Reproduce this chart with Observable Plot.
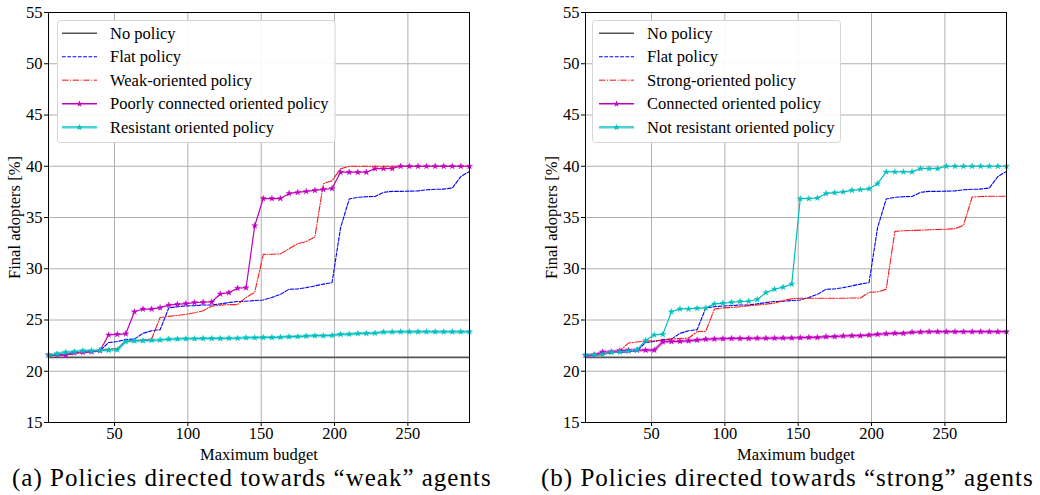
<!DOCTYPE html>
<html>
<head>
<meta charset="utf-8">
<script src="https://cdn.jsdelivr.net/npm/d3@7"></script>
<script src="https://cdn.jsdelivr.net/npm/@observablehq/plot@0.6"></script>
<style>
  html, body { margin: 0; padding: 0; background: white; }
  #wrap { position: relative; width: 1040px; height: 495px; overflow: hidden; background: white; }
  .panel { position: absolute; top: 0; width: 520px; height: 460px; }
  .panel svg { max-width: none !important; }
  .caption { position: absolute; top: 463px; font-family: "Liberation Serif", "Times New Roman", serif; font-size: 25px; letter-spacing: 1px; color: #000; white-space: nowrap; line-height: 30px; }
</style>
</head>
<body>
<div id="wrap"></div>
<script>
// ---------------- data ----------------
const budget = [5.0, 10.9, 16.7, 22.6, 28.4, 34.3, 40.1, 46.0, 51.9, 57.7,
  63.6, 69.4, 75.3, 81.1, 87.0, 92.9, 98.7, 104.6, 110.4, 116.3,
  122.1, 128.0, 133.9, 139.7, 145.6, 151.4, 157.3, 163.1, 169.0, 174.9,
  180.7, 186.6, 192.4, 198.3, 204.1, 210.0, 215.9, 221.7, 227.6, 233.4,
  239.3, 245.1, 251.0, 256.9, 262.7, 268.6, 274.4, 280.3, 286.1, 292.0];

const noPolicy = 21.35;

const flat = [21.5, 21.6, 21.7, 21.8, 21.85, 21.9, 22.0, 22.8, 22.9, 23.1,
  23.14, 23.7, 23.95, 24.05, 26.18, 26.3, 26.37, 26.4, 26.47, 26.47,
  26.57, 26.7, 26.8, 26.83, 26.9, 26.95, 27.2, 27.5, 28.0, 28.03,
  28.16, 28.33, 28.5, 28.65, 34.0, 36.8, 36.97, 37.03, 37.05, 37.46,
  37.55, 37.55, 37.57, 37.6, 37.7, 37.75, 37.77, 37.88, 39.0, 39.5];

// panel (a)
const weakOriented = [21.5, 21.55, 21.6, 21.7, 21.8, 21.85, 22.0, 22.2, 22.2, 22.95,
  23.0, 23.05, 23.15, 25.25, 25.35, 25.45, 25.55, 25.7, 25.9, 26.35,
  26.45, 26.5, 26.5, 27.2, 27.7, 31.4, 31.42, 31.45, 31.95, 32.45,
  32.65, 33.1, 38.3, 38.6, 39.75, 40, 40, 40, 40, 40,
  40, 40, 40, 40, 40, 40, 40, 40, 40, 40];

const poorlyConnected = [21.6, 21.6, 21.55, 21.8, 21.85, 21.9, 22.0, 23.55, 23.6, 23.65,
  25.8, 26.07, 26.07, 26.2, 26.45, 26.53, 26.6, 26.7, 26.73, 26.76,
  27.54, 27.67, 28.1, 28.15, 34.2, 36.85, 36.85, 36.85, 37.35, 37.45,
  37.55, 37.65, 37.75, 37.83, 39.42, 39.42, 39.42, 39.42, 39.77, 39.77,
  39.78, 40, 40, 40, 40, 40, 40, 40, 40, 40];

const resistant = [21.55, 21.7, 21.85, 21.9, 22.0, 22.0, 22.05, 22.05, 22.1, 22.9,
  22.95, 22.98, 23.02, 23.05, 23.12, 23.15, 23.17, 23.18, 23.2, 23.2,
  23.2, 23.22, 23.22, 23.27, 23.28, 23.3, 23.3, 23.32, 23.37, 23.38,
  23.43, 23.47, 23.47, 23.5, 23.6, 23.62, 23.68, 23.7, 23.72, 23.82,
  23.84, 23.85, 23.85, 23.85, 23.85, 23.85, 23.85, 23.85, 23.85, 23.85];

// panel (b)
const strongOriented = [21.5, 21.55, 21.6, 21.85, 22.0, 22.75, 22.85, 22.95, 22.97, 23.02,
  23.14, 23.2, 23.24, 23.85, 23.9, 26.08, 26.18, 26.22, 26.3, 26.4,
  26.47, 26.55, 26.65, 26.9, 27.08, 27.12, 27.12, 27.12, 27.12, 27.12,
  27.12, 27.15, 27.15, 27.7, 27.75, 28.0, 33.65, 33.7, 33.74, 33.77,
  33.8, 33.83, 33.86, 33.9, 34.25, 37.0, 37.05, 37.07, 37.07, 37.07];

const connected = [21.55, 21.6, 21.88, 21.9, 22.0, 22.05, 22.06, 22.06, 22.06, 22.87,
  22.9, 22.92, 22.97, 23.04, 23.12, 23.15, 23.17, 23.2, 23.2, 23.2,
  23.22, 23.22, 23.23, 23.24, 23.25, 23.27, 23.3, 23.3, 23.37, 23.38,
  23.44, 23.47, 23.47, 23.53, 23.6, 23.66, 23.7, 23.7, 23.8, 23.83,
  23.86, 23.86, 23.86, 23.86, 23.86, 23.86, 23.86, 23.86, 23.86, 23.86];

const notResistant = [21.6, 21.6, 21.62, 21.85, 21.88, 21.95, 22.08, 23.0, 23.55, 23.6,
  25.8, 26.08, 26.08, 26.14, 26.18, 26.57, 26.63, 26.73, 26.8, 26.83,
  27.0, 27.67, 28.0, 28.2, 28.5, 36.84, 36.84, 36.9, 37.35, 37.42,
  37.5, 37.65, 37.72, 37.8, 38.3, 39.45, 39.45, 39.45, 39.45, 39.77,
  39.77, 39.77, 40, 40, 40, 40, 40, 40, 40, 40];

const xTicks = [50, 100, 150, 200, 250];
const yTicks = [15, 20, 25, 30, 35, 40, 45, 50, 55];
const xLabel = "Maximum budget";
const yLabel = "Final adopters [%]";

const legendA = ["No policy", "Flat policy", "Weak-oriented policy", "Poorly connected oriented policy", "Resistant oriented policy"];
const legendB = ["No policy", "Flat policy", "Strong-oriented policy", "Connected oriented policy", "Not resistant oriented policy"];
const captionA = "(a) Policies directed towards \u201cweak\u201d agents";
const captionB = "(b) Policies directed towards \u201cstrong\u201d agents";

// ---------------- styles ----------------
const C_BLACK = "#555555", C_BLUE = "#0000ff", C_RED = "#ff0000", C_MAG = "#bf00bf", C_CYAN = "#00bfbf";
const DASH = "3.7,1.6", DASHDOT = "6.4,1.6,1,1.6";
const FONT = "'Liberation Serif', 'Times New Roman', serif";

function rows(vals) { return budget.map((b, i) => ({b, v: vals[i]})); }

function panel({weak, mag, cyan, lowColor, legend, marginRight, legendWidth}) {
  const W = 520, H = 462;
  const magRows = rows(mag), cyanRows = rows(cyan), flatRows = rows(flat), weakRows = rows(weak);
  const magLow = lowColor === "mag";
  const svg = Plot.plot({
    width: W, height: H,
    marginTop: 12, marginBottom: 40, marginLeft: 48, marginRight,
    style: {fontFamily: FONT, fontSize: "16.5px", color: "black", background: "white", overflow: "visible"},
    x: {domain: [5, 292]},
    y: {domain: [15, 55]},
    marks: [
      Plot.gridX(xTicks, {stroke: "#b0b0b0", strokeOpacity: 1, strokeWidth: 1}),
      Plot.gridY(yTicks, {stroke: "#b0b0b0", strokeOpacity: 1, strokeWidth: 1}),
      Plot.axisX(xTicks, {tickSize: 4, tickPadding: 1, label: xLabel, labelAnchor: "center", labelArrow: "none", labelOffset: 37, fontSize: 16.5}),
      Plot.axisY(yTicks, {tickSize: 4, tickPadding: 2, label: yLabel, labelAnchor: "center", labelArrow: "none", labelOffset: 40, fontSize: 16.5}),
      Plot.ruleY([noPolicy], {stroke: C_BLACK, strokeWidth: 1.6}),
      Plot.line(flatRows, {x: "b", y: "v", stroke: C_BLUE, strokeWidth: 1.1, strokeDasharray: DASH}),
      Plot.line(weakRows, {x: "b", y: "v", stroke: C_RED, strokeWidth: 1.1, strokeOpacity: 0.9, strokeDasharray: DASHDOT}),
      magLow ? Plot.line(magRows, {x: "b", y: "v", stroke: C_MAG, strokeWidth: 3.5, strokeOpacity: 0.35}) : null,
      Plot.line(magRows, {x: "b", y: "v", stroke: C_MAG, strokeWidth: 1.2}),
      Plot.dot(magRows, {x: "b", y: "v", symbol: "star", r: 1.9, fill: C_MAG, stroke: C_MAG, strokeWidth: 0.4}),
      !magLow ? Plot.line(cyanRows, {x: "b", y: "v", stroke: C_CYAN, strokeWidth: 3.5, strokeOpacity: 0.35}) : null,
      Plot.line(cyanRows, {x: "b", y: "v", stroke: C_CYAN, strokeWidth: 1.2}),
      Plot.dot(cyanRows, {x: "b", y: "v", symbol: "star", r: 1.9, fill: C_CYAN, stroke: C_CYAN, strokeWidth: 0.4}),
      Plot.frame({stroke: "black", strokeWidth: 1})
    ].filter(Boolean)
  });

  // legend
  const s = d3.select(svg);
  const g = s.append("g").attr("font-family", FONT).attr("font-size", 16.5).attr("text-anchor", "start");
  const bx = legendWidth > 260 ? 57.5 : 55.5, by = 20.5, bh = 122;
  const styles = [
    {stroke: C_BLACK, w: 1.6},
    {stroke: C_BLUE, w: 1.1, dash: DASH},
    {stroke: "#ff5a5a", w: 1.6, dash: DASHDOT},
    {stroke: C_MAG, w: 1.4, marker: true},
    {stroke: C_CYAN, w: 2.6, marker: true, op: 0.7}
  ];
  g.append("rect").attr("x", bx).attr("y", by).attr("width", legendWidth).attr("height", bh)
    .attr("rx", 3).attr("fill", "white").attr("fill-opacity", 0.92)
    .attr("stroke", "#d6d6d6").attr("stroke-width", 1);
  legend.forEach((lab, i) => {
    const y = 33.3 + i * 23.5;
    const st = styles[i];
    g.append("line").attr("x1", 62).attr("x2", 97).attr("y1", y).attr("y2", y)
      .attr("stroke", st.stroke).attr("stroke-width", st.w)
      .attr("stroke-opacity", st.op || 1)
      .attr("stroke-dasharray", st.dash || null);
    if (st.marker) {
      g.append("path").attr("d", d3.symbol(d3.symbolStar, 14)())
        .attr("transform", `translate(79.5,${y})`).attr("fill", st.stroke);
    }
    g.append("text").attr("x", 110).attr("y", y).attr("dy", "0.34em")
      .attr("fill", "black").attr("text-anchor", "start").text(lab);
  });
  return svg;
}

const wrap = document.getElementById("wrap");

const pa = document.createElement("div"); pa.className = "panel"; pa.style.left = "0px";
wrap.appendChild(pa);
pa.appendChild(panel({weak: weakOriented, mag: poorlyConnected, cyan: resistant, lowColor: "cyan", legend: legendA, marginRight: 51, legendWidth: 277.5}));

const pb = document.createElement("div"); pb.className = "panel"; pb.style.left = "537px";
wrap.appendChild(pb);
pb.appendChild(panel({weak: strongOriented, mag: connected, cyan: notResistant, lowColor: "mag", legend: legendB, marginRight: 51, legendWidth: 248}));

const ca = document.createElement("div"); ca.className = "caption"; ca.textContent = captionA;
ca.style.left = "12px"; wrap.appendChild(ca);
const cb = document.createElement("div"); cb.className = "caption"; cb.textContent = captionB;
cb.style.left = "541px"; wrap.appendChild(cb);
</script>
</body>
</html>
